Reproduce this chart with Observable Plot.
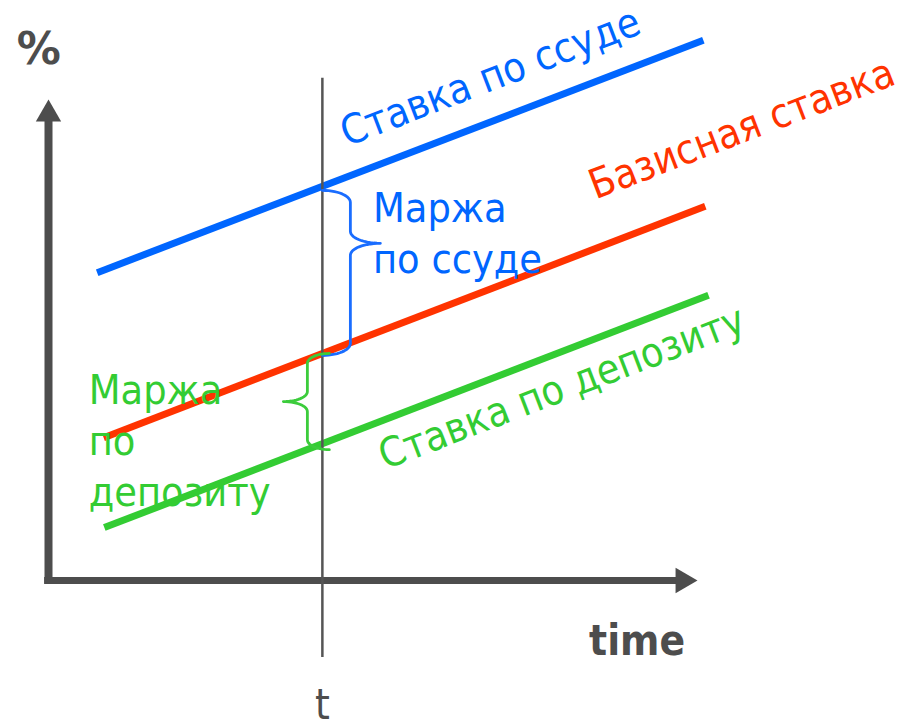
<!DOCTYPE html>
<html><head><meta charset="utf-8">
<script src="https://cdn.jsdelivr.net/npm/d3@7"></script>
<script src="https://cdn.jsdelivr.net/npm/@observablehq/plot@0.6"></script>
<style>
body{margin:0;background:#fff}
svg{display:block}
</style>
</head><body><div id="chart"></div>
<script>
// ---- data (time and rate in arbitrary units) ----
const seriesNames = ["Ставка по ссуде", "Базисная ставка", "Ставка по депозиту"];
const startTime = [0.75, 0.85, 0.86];
const endTime = [10.09, 10.12, 10.17];
const startRate = [6.40, 2.97, 1.10];
const endRate = [11.23, 7.78, 5.93];
const tMoment = 4.22;
const tLineFrom = -1.60;
const tLineTo = 10.44;

// margins shown by braces at moment t
const braceNames = ["Маржа по ссуде", "Маржа по депозиту"];
const braceTop = [8.11, 4.72];
const braceBottom = [4.68, 2.72];
const braceTip = [7.01, 3.72];

// labels
const labelTexts = ["Ставка по ссуде", "Базисная ставка", "Ставка по депозиту", "Маржа\nпо ссуде", "Маржа\nпо\nдепозиту"];
const labelTime = [4.60, 8.43, 5.19, 5.0, 0.62];
const labelRate = [9.02, 7.92, 2.30, 6.40, 1.54];
const labelAngle = [-21, -21, -21, 0, 0];
const axisTexts = ["%", "time", "t"];
const axisTextTime = [-0.49, 8.33, 4.22];
const axisTextRate = [10.73, -1.54, -2.87];

// ---- styles ----
const seriesColors = ["#0066ff", "#ff3300", "#33cc33"];
const labelColors = ["#0066ff", "#ff3300", "#33cc33", "#0066ff", "#33cc33"];
const braceColors = ["#1a6dff", "#3ccc3c"];
const ink = "#4d4d4d";
const FONT = "'DejaVu Sans Condensed', 'DejaVu Sans', sans-serif";
const xDom = [0, 10], xRange = [48, 697];
const yDom = [0, 10], yRange = [580, 99];

const sx = Plot.scale({x: {type: "linear", domain: xDom, range: xRange}});
const sy = Plot.scale({y: {type: "linear", domain: yDom, range: yRange}});

// brace geometry (pixel sizes): dir, offset of arm ends, arm width, tip width, corner radius
const braceGeom = [
  {dir: 1, off: 0, w1: 28, w2: 30, r: 12},
  {dir: -1, off: 7, w1: 22, w2: 24, r: 10}
];
function bracePoints(k) {
  const g = braceGeom[k];
  const xe = sx.apply(tMoment) + g.off;
  const yT = sy.apply(braceTop[k]), yB = sy.apply(braceBottom[k]), yM = sy.apply(braceTip[k]);
  const xv = xe + g.dir * g.w1;
  const pts = [], N = 14, q = Math.PI / 2;
  for (let i = 0; i <= N; i++) { const a = i / N * q; pts.push([xe + g.dir * g.w1 * Math.sin(a), yT + g.r * (1 - Math.cos(a))]); }
  for (let i = 0; i <= N; i++) { const a = i / N * q; pts.push([xv + g.dir * g.w2 * (1 - Math.cos(a)), yM - g.r + g.r * Math.sin(a)]); }
  for (let i = N; i >= 0; i--) { const a = i / N * q; pts.push([xv + g.dir * g.w2 * (1 - Math.cos(a)), yM + g.r - g.r * Math.sin(a)]); }
  for (let i = N; i >= 0; i--) { const a = i / N * q; pts.push([xe + g.dir * g.w1 * Math.sin(a), yB - g.r * (1 - Math.cos(a))]); }
  return pts.map(([px, py]) => ({x: sx.invert(px), y: sy.invert(py), k, color: braceColors[k]}));
}
const braceData = braceNames.flatMap((_, k) => bracePoints(k));

const sIdx = seriesNames.map((_, i) => i);
const lIdx = labelTexts.map((_, i) => i);

const chart = Plot.plot({
  width: 905,
  height: 723,
  margin: 0,
  x: {domain: xDom, range: xRange, axis: null},
  y: {domain: yDom, range: yRange, axis: null},
  color: {type: "identity"},
  style: {background: "#fff", fontFamily: FONT},
  marks: [
    // axes
    Plot.ruleX([0], {y1: -0.07, y2: 9.55, stroke: ink, strokeWidth: 8}),
    Plot.ruleY([0], {x1: -0.06, x2: 9.68, stroke: ink, strokeWidth: 7}),
    Plot.dot([{x: 0, y: 10}], {x: "x", y: "y", symbol: "triangle", r: 9.4, fill: ink, stroke: "none", dy: 14.6}),
    Plot.dot([{x: 10, y: 0}], {x: "x", y: "y", symbol: "triangle", r: 9.4, fill: ink, stroke: "none", rotate: 90, dx: -14.6}),
    // rate lines
    Plot.link(sIdx, {
      x1: i => startTime[i], y1: i => startRate[i],
      x2: i => endTime[i], y2: i => endRate[i],
      stroke: i => seriesColors[i], strokeWidth: 7, strokeLinecap: "butt"
    }),
    // moment t
    Plot.ruleX([tMoment], {y1: tLineFrom, y2: tLineTo, stroke: "#555", strokeWidth: 2.5}),
    // braces
    Plot.line(braceData, {x: "x", y: "y", z: "k", stroke: "color", strokeWidth: 2.8, curve: "linear"}),
    // labels
    Plot.text(lIdx, {
      x: i => labelTime[i], y: i => labelRate[i], text: i => labelTexts[i],
      rotate: i => labelAngle[i], fill: i => labelColors[i],
      textAnchor: "start", lineAnchor: "bottom", lineHeight: 1.245,
      fontSize: 41, fontFamily: FONT
    }),
    Plot.text([0], {
      x: i => axisTextTime[i], y: i => axisTextRate[i], text: i => axisTexts[i],
      textAnchor: "start", lineAnchor: "bottom", fill: ink, fontSize: 44,
      fontWeight: "bold", fontFamily: "'DejaVu Sans', sans-serif"
    }),
    Plot.text([1], {
      x: i => axisTextTime[i], y: i => axisTextRate[i], text: i => axisTexts[i],
      textAnchor: "start", lineAnchor: "bottom", fill: ink, fontSize: 42,
      fontWeight: "bold", fontFamily: FONT
    }),
    Plot.text([2], {
      x: i => axisTextTime[i], y: i => axisTextRate[i], text: i => axisTexts[i],
      textAnchor: "middle", lineAnchor: "bottom", fill: ink, fontSize: 42, fontFamily: FONT
    })
  ]
});
document.getElementById("chart").append(chart);
</script>
</body></html>
